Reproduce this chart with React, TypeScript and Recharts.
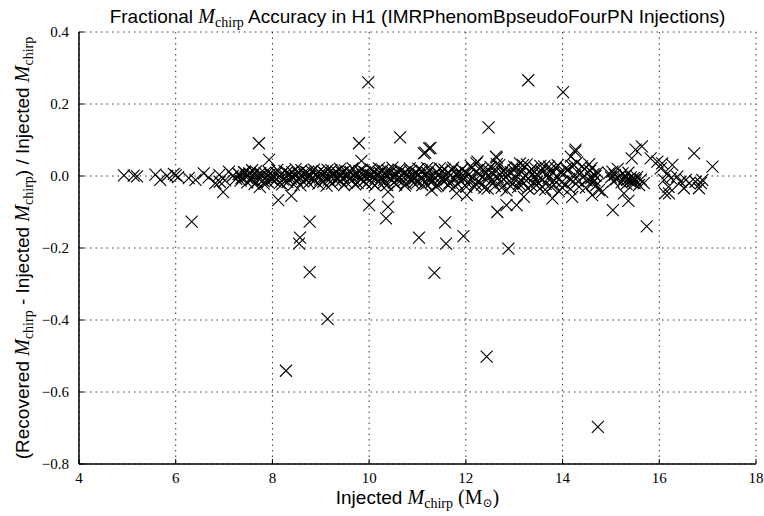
import React from 'react';
import { ScatterChart, Scatter, XAxis, YAxis, CartesianGrid } from 'recharts';

const xTicks = [4, 6, 8, 10, 12, 14, 16, 18];
const yTicks = [-0.8, -0.6, -0.4, -0.2, 0, 0.2, 0.4];

// dense band of well-recovered injections: [injected Mchirp, fractional error]
const bandPoints: [number, number][] = [
  [4.93, 0.002], [5.13, 0.001], [5.2, -0.001], [5.58, 0.004], [5.68, -0.011], [5.82, 0.0], [5.96, 0.006], [6.0, 0.002],
  [6.05, -0.003], [6.27, -0.006], [6.41, -0.011], [6.58, 0.007], [6.68, -0.004], [6.82, -0.02], [6.9, 0.003], [7.02, -0.012],
  [7.1, 0.012], [7.18, 0.0], [7.25, -0.008], [7.3, 0.006], [7.32, 0.004], [7.36, -0.006], [7.41, 0.011], [7.45, -0.002],
  [7.48, -0.018], [7.52, 0.007], [7.57, -0.009], [7.6, 0.002], [7.63, -0.022], [7.66, 0.013], [7.7, -0.005], [7.77, 0.003],
  [7.8, -0.012], [7.84, 0.008], [7.87, -0.003], [7.9, -0.016], [7.95, 0.005], [7.98, -0.008],
  [8.02, 0.001], [8.05, -0.014], [8.08, 0.009], [8.12, -0.004], [8.15, -0.02], [8.18, 0.004], [8.22, -0.01], [8.25, 0.014],
  [8.28, -0.002], [8.31, -0.017], [8.35, 0.006], [8.38, -0.007], [8.41, 0.011], [8.44, -0.024], [8.47, 0.0], [8.5, -0.012],
  [8.53, 0.008], [8.56, -0.004], [8.6, 0.016], [8.63, -0.015], [8.66, 0.003], [8.69, -0.008], [8.72, 0.01], [8.75, -0.019],
  [8.78, 0.001], [8.81, 0.013], [8.84, -0.006], [8.87, -0.013], [8.9, 0.005], [8.93, -0.002], [8.96, 0.012], [8.99, -0.01],
  [9.02, 0.003], [9.05, -0.016], [9.08, 0.008], [9.11, -0.005], [9.14, 0.017], [9.17, -0.011], [9.2, 0.0], [9.23, -0.021],
  [9.26, 0.006], [9.29, -0.003], [9.32, 0.012], [9.35, -0.009], [9.38, 0.002], [9.41, -0.014], [9.44, 0.009], [9.47, -0.004],
  [9.5, 0.015], [9.53, -0.018], [9.56, 0.001], [9.59, -0.007], [9.62, 0.011], [9.65, -0.012], [9.68, 0.004], [9.71, -0.023],
  [9.74, 0.007], [9.77, -0.002], [9.8, 0.014], [9.83, -0.009], [9.86, 0.003], [9.89, -0.015], [9.92, 0.01], [9.95, -0.005],
  [9.98, 0.006], [10.01, -0.012], [10.04, 0.002], [10.07, -0.02], [10.1, 0.013], [10.13, -0.006], [10.16, 0.005], [10.19, -0.016],
  [10.22, 0.009], [10.25, -0.003], [10.28, 0.016], [10.31, -0.011], [10.34, 0.001], [10.37, -0.025], [10.4, 0.007], [10.43, -0.008],
  [10.46, 0.012], [10.49, -0.002], [10.52, -0.017], [10.55, 0.004], [10.58, -0.009], [10.61, 0.018], [10.64, -0.005], [10.67, 0.002],
  [10.7, -0.014], [10.73, 0.01], [10.76, -0.021], [10.79, 0.006], [10.82, -0.003], [10.85, 0.013], [10.88, -0.012], [10.91, 0.0],
  [10.94, -0.007], [10.97, 0.009], [11.0, -0.018], [11.03, 0.004], [11.06, -0.006], [11.09, 0.015], [11.12, -0.01], [11.15, 0.002],
  [11.18, -0.022], [11.21, 0.008], [11.24, -0.003], [11.27, 0.019], [11.3, -0.013], [11.33, 0.001], [11.36, -0.008], [11.39, 0.011],
  [11.42, -0.026], [11.45, 0.005], [11.48, -0.004], [11.51, 0.014], [11.54, -0.015], [11.57, 0.0], [11.6, -0.01], [11.63, 0.009],
  [11.66, -0.019], [11.69, 0.003], [11.72, 0.017], [11.75, -0.006], [11.78, -0.028], [11.81, 0.007], [11.84, -0.002], [11.87, 0.012],
  [11.9, -0.014], [11.93, 0.002], [11.96, -0.008], [12.0, 0.01], [12.03, -0.02], [12.06, 0.004], [12.09, -0.011], [12.12, 0.022],
  [12.15, -0.005], [12.18, -0.03], [12.21, 0.012], [12.27, -0.015], [12.3, 0.003], [12.33, -0.024], [12.36, 0.018], [12.39, -0.007],
  [12.42, 0.008], [12.45, -0.035], [12.48, 0.001], [12.51, 0.025], [12.54, -0.012], [12.57, 0.006], [12.6, -0.028], [12.63, 0.015],
  [12.66, -0.004], [12.69, 0.03], [12.72, -0.018], [12.75, 0.009], [12.78, -0.009], [12.81, 0.02], [12.84, -0.04], [12.87, 0.003],
  [12.9, -0.014], [12.93, 0.011], [12.96, -0.022], [12.99, 0.016], [13.02, -0.006], [13.05, 0.024], [13.08, -0.031], [13.11, 0.005],
  [13.14, -0.012], [13.17, 0.018], [13.2, -0.02], [13.23, 0.002], [13.26, 0.032], [13.29, -0.008], [13.32, 0.012], [13.35, -0.026],
  [13.38, 0.006], [13.41, -0.003], [13.44, 0.021], [13.47, -0.016], [13.5, 0.0], [13.53, -0.036], [13.56, 0.014], [13.59, -0.01],
  [13.62, 0.027], [13.65, -0.022], [13.68, 0.004], [13.71, -0.005], [13.74, 0.017], [13.77, -0.03], [13.8, 0.009], [13.83, -0.013],
  [13.86, 0.022], [13.89, -0.002], [13.92, -0.042], [13.95, 0.011], [13.98, -0.018], [14.02, 0.006], [14.06, -0.024], [14.1, 0.015],
  [14.14, -0.008], [14.18, 0.028], [14.22, -0.015], [14.26, 0.002], [14.3, 0.038], [14.34, -0.03], [14.38, 0.01], [14.42, -0.004],
  [14.46, 0.02], [14.5, -0.012], [14.55, 0.033], [14.57, 0.014], [14.59, -0.006], [14.6, 0.022], [14.62, -0.02], [14.64, 0.005],
  [14.66, -0.012], [14.68, 0.0], [14.7, -0.025], [14.72, 0.01], [14.96, 0.007], [15.0, -0.004], [15.03, 0.012], [15.05, -0.015],
  [15.08, 0.003], [15.11, -0.009], [15.14, 0.02], [15.18, -0.002], [15.22, -0.018], [15.24, 0.007], [15.27, -0.007], [15.3, 0.001],
  [15.32, -0.022], [15.34, -0.011], [15.36, 0.009], [15.39, -0.014], [15.41, -0.004], [15.44, -0.016], [15.47, -0.006], [15.49, -0.02],
  [15.51, -0.011], [15.54, -0.003], [15.58, -0.025], [15.62, -0.01], [15.68, -0.02], [16.1, -0.011], [16.17, 0.007], [16.19, -0.03],
  [16.24, -0.006], [16.37, -0.002], [16.44, -0.016], [16.55, -0.011], [16.62, -0.02], [16.75, -0.016], [16.86, -0.02], [16.89, -0.011],
  [7.34, -0.013], [7.43, 0.009], [7.5, 0.001], [7.58, 0.016], [7.68, -0.017], [7.75, 0.008], [7.82, -0.021], [7.92, 0.012],
  [8.0, -0.009], [8.1, 0.017], [8.2, -0.023], [8.3, 0.01], [8.4, -0.002], [8.48, 0.019], [8.58, -0.026], [8.68, 0.012],
  [8.76, -0.004], [8.86, 0.018], [8.95, -0.021], [9.04, 0.013], [9.12, -0.027], [9.22, 0.016], [9.3, -0.012], [9.4, 0.02],
  [9.48, -0.025], [9.58, 0.012], [9.66, 0.021], [9.76, -0.019], [9.85, 0.017], [9.94, -0.022], [10.03, 0.019], [10.12, -0.026],
  [10.2, 0.021], [10.3, -0.019], [10.38, 0.016], [10.48, 0.023], [10.56, -0.024], [10.66, 0.015], [10.74, -0.027], [10.84, 0.021],
  [10.92, -0.02], [11.02, 0.02], [11.1, -0.025], [11.2, 0.022], [11.28, -0.018], [11.38, -0.029], [11.46, 0.021], [11.56, 0.018],
  [11.64, -0.026], [11.74, 0.023], [11.82, -0.021], [11.92, 0.018], [12.01, -0.03], [12.1, 0.028], [12.2, -0.022], [12.28, 0.02],
  [12.38, -0.033], [12.46, 0.017], [12.56, -0.02], [12.64, 0.033], [12.74, -0.032], [12.82, 0.008], [12.92, -0.028], [13.0, 0.026],
  [13.1, -0.022], [13.18, 0.03], [13.28, -0.034], [13.36, 0.02], [13.46, -0.025], [13.54, 0.028], [13.64, -0.038], [13.72, 0.026],
  [13.82, -0.024], [13.9, 0.03], [14.0, -0.033], [14.08, 0.022], [14.16, -0.036], [14.24, 0.03], [14.32, -0.015], [14.4, 0.027],
  [14.48, -0.032],
];

// scattered poorly-recovered injections
const outlierPoints: [number, number][] = [
  [6.33, -0.127], [6.91, -0.016], [6.98, -0.045], [7.72, 0.091], [7.74, -0.03], [7.93, 0.045], [8.12, -0.067], [8.39, -0.055],
  [8.28, -0.541], [8.57, -0.171], [8.55, -0.188], [8.77, -0.127], [8.77, -0.267], [9.14, -0.397], [9.79, 0.091], [9.84, 0.042],
  [9.98, 0.26], [10.0, -0.081], [10.39, -0.086], [10.35, -0.118], [10.39, -0.044], [10.64, 0.107], [11.03, -0.171], [11.13, 0.063],
  [11.16, 0.065], [11.24, 0.077], [11.27, 0.078], [11.29, -0.039], [11.35, -0.269], [11.57, -0.129], [11.59, -0.188], [11.81, -0.048],
  [11.95, -0.167], [12.02, -0.053], [12.22, 0.035], [12.24, 0.04], [12.43, -0.502], [12.47, 0.135], [12.62, 0.054], [12.64, 0.051],
  [12.65, -0.1], [12.84, -0.081], [12.88, -0.202], [13.05, -0.081], [13.12, 0.035], [13.2, -0.058], [13.29, 0.266], [13.79, -0.062],
  [14.01, 0.233], [14.17, 0.054], [14.2, -0.058], [14.26, 0.068], [14.27, 0.073], [14.61, -0.053], [14.73, -0.697], [14.75, -0.039],
  [14.82, -0.044], [15.04, -0.095], [15.27, -0.048], [15.36, -0.069], [15.43, 0.049], [15.51, 0.073], [15.64, 0.082], [15.74, -0.14],
  [15.82, 0.049], [15.96, 0.04], [16.03, 0.021], [16.06, 0.035], [16.12, -0.048], [16.2, -0.048], [16.27, 0.031], [16.51, -0.034],
  [16.72, 0.063], [16.82, -0.034], [17.1, 0.026],
];

const bandData = bandPoints.map(([x, y]) => ({ x, y }));
const outlierData = outlierPoints.map(([x, y]) => ({ x, y }));

const Cross = (props: any) => {
  const { cx, cy } = props;
  if (cx == null || cy == null) return null;
  const r = 6;
  return (
    <path
      d={`M${cx - r},${cy - r}L${cx + r},${cy + r}M${cx - r},${cy + r}L${cx + r},${cy - r}`}
      stroke="#000"
      strokeWidth={1.1}
      fill="none"
    />
  );
};

const fmtY = (v: number) => v.toFixed(1).replace('-', '\u2212');

const serif = '"Liberation Serif", "DejaVu Serif", serif';
const sans = '"Liberation Sans", Arial, sans-serif';

const XTick = (props: any) => {
  const { x, payload } = props;
  return (
    <text x={x} y={483} textAnchor="middle" fontFamily={serif} fontSize={15} fill="#000">
      {String(payload.value)}
    </text>
  );
};

const YTick = (props: any) => {
  const { y, payload } = props;
  return (
    <text x={69} y={y + 5} textAnchor="end" fontFamily={serif} fontSize={15} fill="#000">
      {fmtY(payload.value)}
    </text>
  );
};

const FS = 19;

const Mchirp = () => (
  <>
    <tspan fontFamily={serif} fontStyle="italic" fontSize={FS + 1}>M</tspan>
    <tspan fontFamily={serif} fontSize={14} dy={4}>chirp</tspan>
  </>
);

export default function App() {
  return (
    <div style={{ position: 'absolute', left: 0, top: 0, width: 764, height: 516, background: '#fff' }}>
      <ScatterChart width={764} height={516} margin={{ top: 32, right: 8, bottom: 0, left: 0 }}>
        <CartesianGrid stroke="#000" strokeDasharray="1.5 4" strokeWidth={0.8} />
        <XAxis
          type="number"
          dataKey="x"
          domain={[4, 18]}
          ticks={xTicks}
          allowDataOverflow
          height={52}
          tickSize={-5}
          tick={<XTick />}
          tickLine={{ stroke: '#000' }}
          axisLine={{ stroke: '#000', strokeWidth: 1.5 }}
        />
        <XAxis
          xAxisId="top"
          orientation="top"
          type="number"
          domain={[4, 18]}
          ticks={xTicks}
          allowDataOverflow
          height={0}
          tickSize={-5}
          tick={false}
          tickLine={{ stroke: '#000' }}
          axisLine={{ stroke: '#000', strokeWidth: 1.5 }}
        />
        <YAxis
          type="number"
          dataKey="y"
          domain={[-0.8, 0.4]}
          ticks={yTicks}
          allowDataOverflow
          width={79}
          tickSize={-5}
          tick={<YTick />}
          tickLine={{ stroke: '#000' }}
          axisLine={{ stroke: '#000', strokeWidth: 1.5 }}
        />
        <YAxis
          yAxisId="right"
          orientation="right"
          type="number"
          domain={[-0.8, 0.4]}
          ticks={yTicks}
          allowDataOverflow
          width={0}
          tickSize={-5}
          tick={false}
          tickLine={{ stroke: '#000' }}
          axisLine={{ stroke: '#000', strokeWidth: 1.5 }}
        />
        <Scatter data={bandData} shape={Cross} isAnimationActive={false} />
        <Scatter data={outlierData} shape={Cross} isAnimationActive={false} />
      </ScatterChart>
      <svg width={764} height={516} style={{ position: 'absolute', left: 0, top: 0, pointerEvents: 'none' }}>
        <text x={417.5} y={23} textAnchor="middle" fontFamily={sans} fontSize={FS} fill="#000">
          {'Fractional '}
          <Mchirp />
          <tspan dy={-4}>{' Accuracy in H1 (IMRPhenomBpseudoFourPN Injections)'}</tspan>
        </text>
        <text x={417.5} y={504} textAnchor="middle" fontFamily={sans} fontSize={FS} fill="#000">
          {'Injected '}
          <Mchirp />
          <tspan dy={-4} fontFamily={serif} fontSize={FS + 1}>{' (M'}</tspan>
          <tspan fontFamily={serif} fontSize={12} dy={3}>{'\u2299'}</tspan>
          <tspan fontFamily={serif} fontSize={FS + 1} dy={-3}>{')'}</tspan>
        </text>
        <text
          transform="rotate(-90)"
          x={-248}
          y={29}
          textAnchor="middle"
          fontFamily={sans}
          fontSize={FS}
          fill="#000"
        >
          {'(Recovered '}
          <Mchirp />
          <tspan dy={-4}>{' - Injected '}</tspan>
          <Mchirp />
          <tspan dy={-4}>{') / Injected '}</tspan>
          <Mchirp />
        </text>
      </svg>
    </div>
  );
}
